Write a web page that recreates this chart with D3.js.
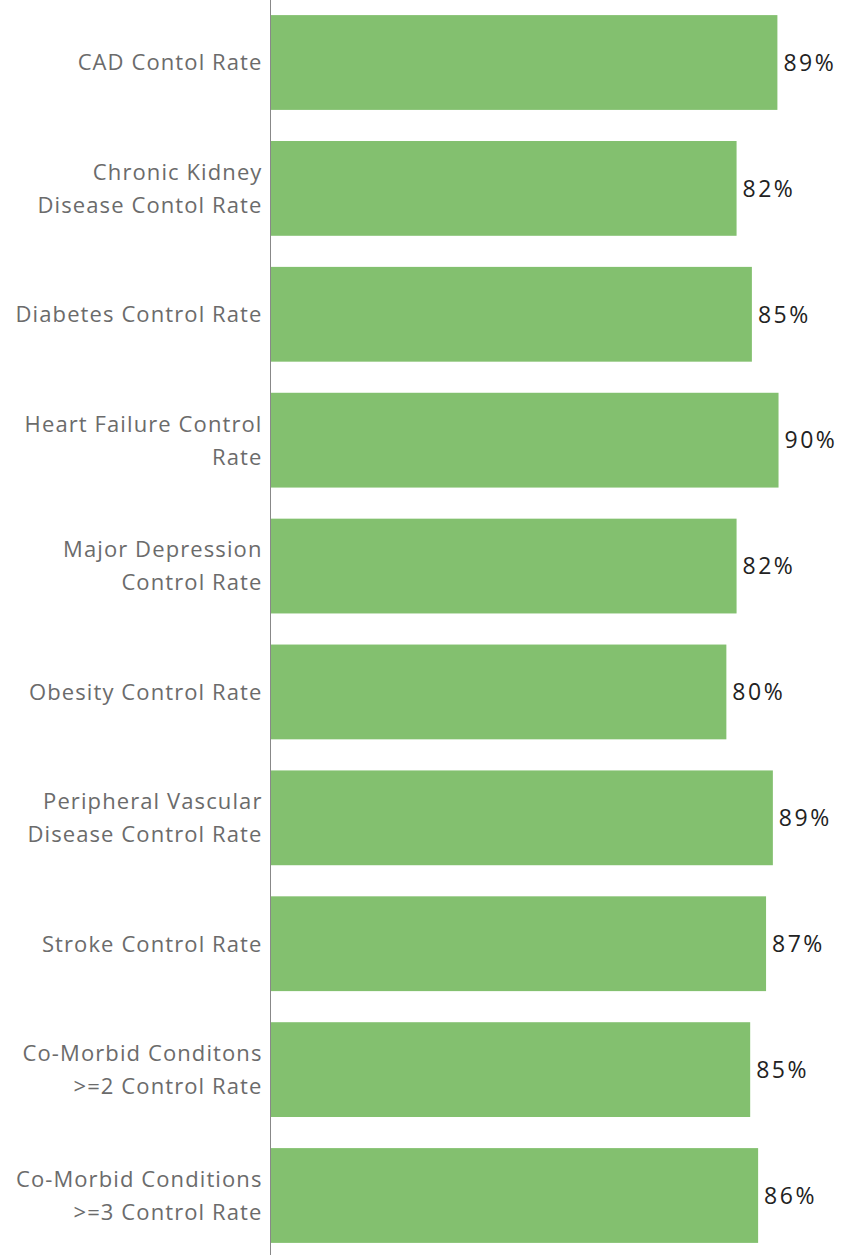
<!DOCTYPE html>
<meta charset="utf-8">
<script src="https://d3js.org/d3.v7.min.js"></script>
<style>
  body { margin: 0; background: #fff; }
</style>
<svg width="867" height="1255"></svg>

<script>
// categories (line breaks as in the original labels)
var categories = [
    "CAD Contol Rate",
    "Chronic Kidney\nDisease Contol Rate",
    "Diabetes Control Rate",
    "Heart Failure Control\nRate",
    "Major Depression\nControl Rate",
    "Obesity Control Rate",
    "Peripheral Vascular\nDisease Control Rate",
    "Stroke Control Rate",
    "Co-Morbid Conditons\n>=2 Control Rate",
    "Co-Morbid Conditions\n>=3 Control Rate"
];

// control rates
var rates = [0.894, 0.822, 0.849, 0.896, 0.822, 0.804, 0.886, 0.874, 0.846, 0.860];

var data = categories.map(function (c, i) { return { name: c, value: rates[i] }; });

var svg = d3.select("svg"),
    margin = { top: 0, right: 0, bottom: 0, left: 270.5 },
    width = +svg.attr("width") - margin.left - margin.right,
    height = 1258,
    g = svg.append("g").attr("transform", "translate(" + margin.left + "," + margin.top + ")");

var x = d3.scaleLinear()
    .domain([0, 1])
    .range([0, 567]);

var y = d3.scaleBand()
    .domain(categories)
    .range([0, height])
    .paddingInner(0.247)
    .paddingOuter(0.12);

var fontSize = 22;

// bars
g.append("g")
    .selectAll("rect")
    .data(data)
    .enter().append("rect")
    .attr("x", 0)
    .attr("y", function (d) { return y(d.name); })
    .attr("width", function (d) { return x(d.value); })
    .attr("height", y.bandwidth())
    .attr("fill", "#83c06f");

// value labels
g.append("g")
    .selectAll("text")
    .data(data)
    .enter().append("text")
    .attr("x", function (d) { return x(d.value) + 6; })
    .attr("y", function (d) { return y(d.name) + y.bandwidth() / 2; })
    .attr("dy", "0.36em")
    .attr("font-family", "'Open Sans', sans-serif")
    .attr("font-size", 23)
    .attr("letter-spacing", 2.5)
    .attr("fill", "#222")
    .text(function (d) { return d3.format(".0%")(d.value); });

// category labels
var lineH = 33;
var lab = g.append("g")
    .selectAll("text")
    .data(data)
    .enter().append("text")
    .attr("text-anchor", "end")
    .attr("font-family", "'Open Sans', sans-serif")
    .attr("font-size", fontSize)
    .attr("letter-spacing", 1.1)
    .attr("fill", "#6b6b6b")
    .attr("y", function (d) { return y(d.name) + y.bandwidth() / 2; });

lab.each(function (d) {
    var lines = d.name.split("\n");
    var t = d3.select(this);
    lines.forEach(function (l, i) {
        t.append("tspan")
            .attr("x", -8)
            .attr("dy", i === 0 ? (0.36 * fontSize - (lines.length - 1) * lineH / 2) : lineH)
            .text(l);
    });
});

// axis line
g.append("line")
    .attr("x1", 0).attr("x2", 0)
    .attr("y1", 0).attr("y2", 1255)
    .attr("stroke", "#888")
    .attr("stroke-width", 1);
</script>
